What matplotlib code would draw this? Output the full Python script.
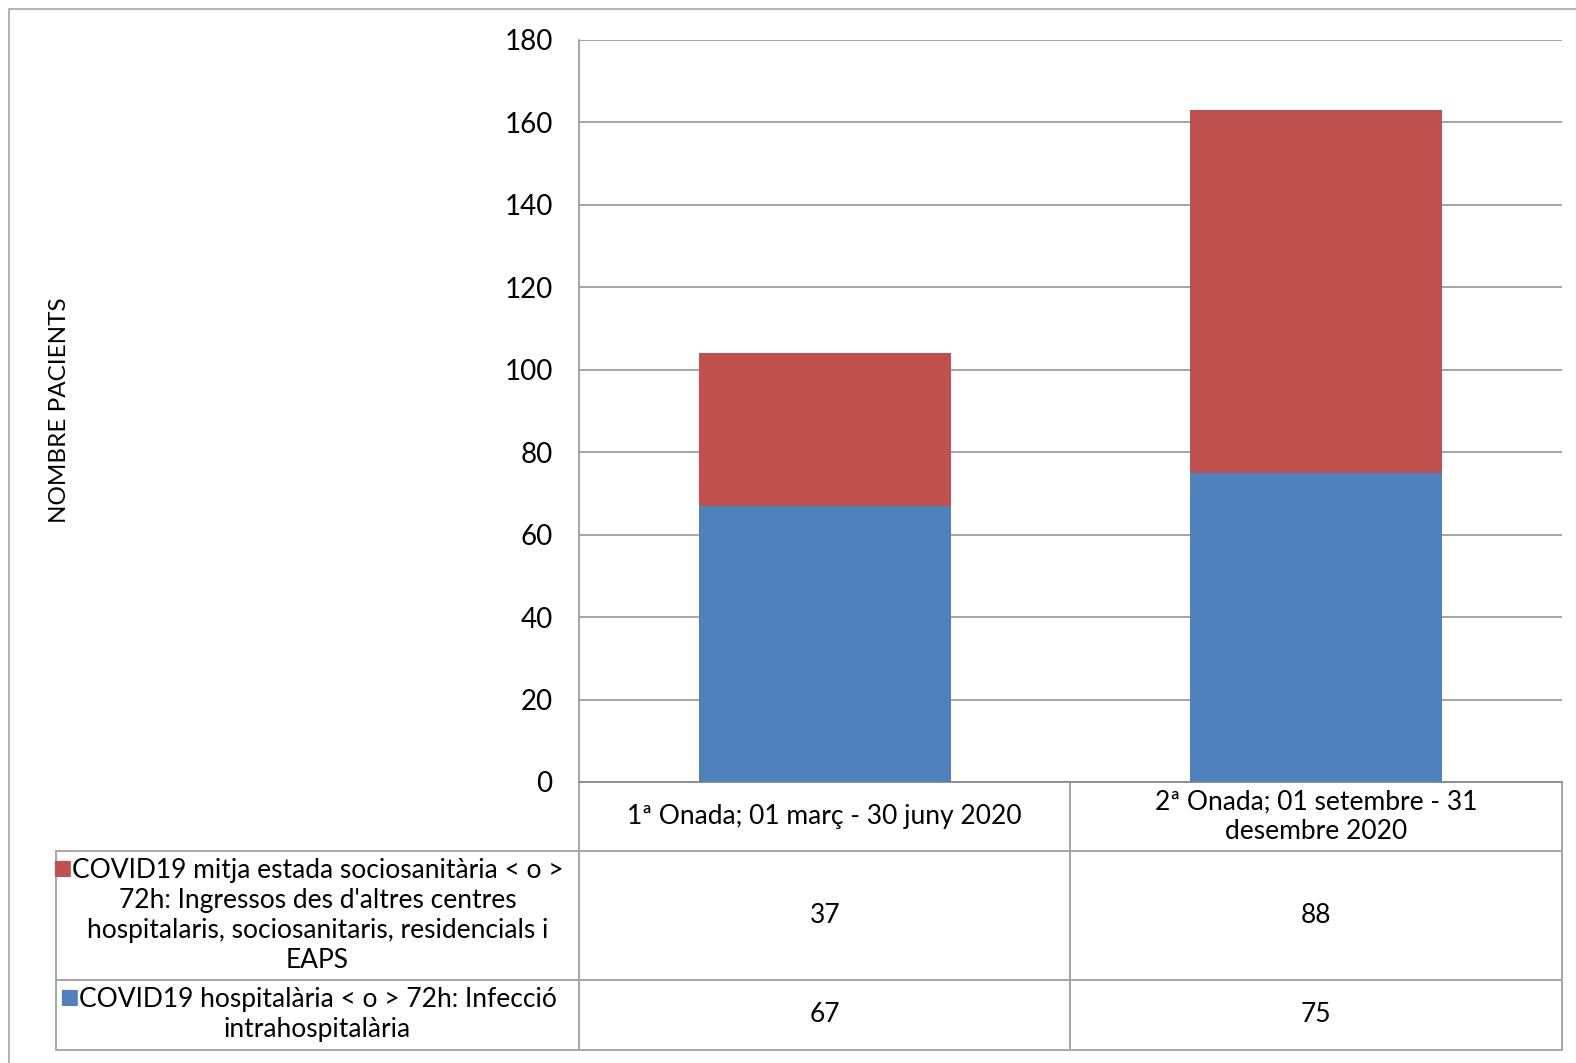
import matplotlib.pyplot as plt
from matplotlib.table import Table
from matplotlib.patches import Rectangle

plt.rcParams['font.family'] = ['Lato', 'DejaVu Sans']

# data
categories = ["1ª Onada; 01 març - 30 juny 2020",
              "2ª Onada; 01 setembre - 31\ndesembre 2020"]
series_names = ["COVID19 mitja estada sociosanitària < o >\n72h: Ingressos des d'altres centres\nhospitalaris, sociosanitaris, residencials i\nEAPS",
                "COVID19 hospitalària < o > 72h: Infecció\nintrahospitalària"]
hospitalaria = [67, 75]
sociosanitaria = [37, 88]
yticks = [0, 20, 40, 60, 80, 100, 120, 140, 160, 180]

blue = "#4F81BD"
red = "#C0504D"
grid_col = "#8C8C8C"
line_col = "#A6A6A6"

W, H = 1576, 1063
fig = plt.figure(figsize=(W / 100, H / 100), dpi=100)

# axes box in pixels: left 579, right 1562, top 40, bottom 782
ax = fig.add_axes([579 / W, 1 - 782 / H, 983 / W, 742 / H])

x = list(range(len(categories)))
ax.bar(x, hospitalaria, width=0.513, color=blue, zorder=3)
ax.bar(x, sociosanitaria, width=0.513, bottom=hospitalaria, color=red, zorder=3)

ax.set_xlim(-0.5, 1.5)
ax.set_ylim(0, 180)
ax.set_yticks(yticks)
ax.set_xticks([])
ax.tick_params(axis='y', length=0, pad=19, labelsize=20)
ax.grid(axis='y', color=grid_col, linewidth=1.1, zorder=0)
for s in ['top', 'right']:
    ax.spines[s].set_visible(False)
for s in ['left', 'bottom']:
    ax.spines[s].set_color(grid_col)
    ax.spines[s].set_linewidth(1.1)

# data table below the axes: column 0 holds the series names
col_w = [523, 491.5, 491.5]
row_h = [69, 129, 70]
tbl = Table(ax, bbox=[(56 - 579) / 983, -268 / 742, 1506 / 983, 268 / 742])
for j, cat in enumerate(categories):
    tbl.add_cell(0, j + 1, width=col_w[j + 1], height=row_h[0], text=cat, loc='center')
rows = [sociosanitaria, hospitalaria]
for i, (name, vals) in enumerate(zip(series_names, rows)):
    tbl.add_cell(i + 1, 0, width=col_w[0], height=row_h[i + 1], text=name, loc='center')
    for j, v in enumerate(vals):
        tbl.add_cell(i + 1, j + 1, width=col_w[j + 1], height=row_h[i + 1], text=str(v), loc='center')
tbl.auto_set_font_size(False)
tbl.set_fontsize(19)
for cell in tbl.get_celld().values():
    cell.set_edgecolor(line_col)
    cell.set_linewidth(1.4)
    cell.set_facecolor('none')
    cell.get_text().set_linespacing(1.25)
ax.add_table(tbl)

# legend keys in the row labels
for i, col in enumerate([red, blue]):
    label_text = tbl[i + 1, 0].get_text()
    ax.annotate("■", xy=(0, 1), xycoords=label_text, xytext=(0, 0),
                textcoords='offset points', ha='right', va='top',
                color=col, fontsize=15, family='DejaVu Sans')

fig.text(60 / W, 1 - 410 / H, "NOMBRE PACIENTS", rotation=90,
         ha='center', va='center', fontsize=17.5)

# outer frame (right and bottom edges fall outside the image)
fig.add_artist(Rectangle((9 / W, -0.1), 1.2, 1.1 - 9 / H, transform=fig.transFigure,
                         fill=False, edgecolor=line_col, linewidth=1.2))

fig.canvas.draw()
fig.savefig("out.png", dpi=100)
